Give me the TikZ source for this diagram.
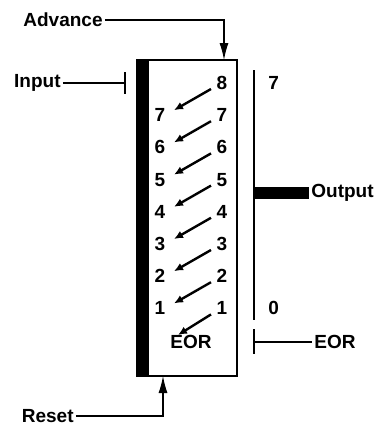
\documentclass[tikz,border=0pt]{standalone}
\usepackage{fontspec}
\setmainfont{Liberation Sans}
\usetikzlibrary{arrows.meta,positioning}

\begin{document}
\begin{tikzpicture}[x=0.5pt, y=-0.5pt,
  lbl/.style={font=\bfseries\fontsize{9.5}{11}\selectfont, inner sep=1pt},
  digit/.style={lbl, anchor=center},
  wire/.style={line width=0.6pt},
  feed/.style={wire, -{Latex[length=8.5pt, width=4.5pt]}},
  shiftarr/.style={line width=1.2pt, -{Latex[length=4.5pt, width=4pt]}}
]
  \useasboundingbox (0,0) rectangle (385,425);

  %% Register box
  \node[draw, line width=1pt, minimum width=50pt, minimum height=158pt, inner sep=0pt] (reg) at (187,218) {};
  \fill (reg.north west) rectangle ([xshift=6.5pt]reg.south west);

  %% Cell numbers
  \node[digit] (r8) at (222,83) {8};
  \foreach \n [evaluate=\n as \y using {83+(8-\n)*32.2}] in {7,...,1} {
    \node[digit] (l\n) at (160,\y) {\n};
    \node[digit] (r\n) at (222,\y) {\n};
  }
  \node[digit] (eor) at (191,342) {EOR};

  %% Shift arrows
  \foreach \a/\b in {8/7,7/6,6/5,5/4,4/3,3/2,2/1} {
    \draw[shiftarr] ([shift={(-11,6)}]r\a.center) -- ([shift={(14,-5)}]l\b.center);
  }
  \draw[shiftarr] ([shift={(-11,6)}]r1.center) -- ([shift={(-13,-7)}]eor.center);

  %% Advance and reset
  \node[lbl, anchor=east] (adv) at (105,20) {Advance};
  \coordinate (advin) at (224,60);
  \draw[feed] (adv.east) -| (advin);

  \node[lbl, anchor=east] (rst) at (76,416) {Reset};
  \coordinate (rstin) at (163,376);
  \draw[feed] (rst.east) -| (rstin);

  %% Input
  \node[lbl, anchor=east] (inp) at (63,83) {Input};
  \coordinate (inpbar) at (125,83);
  \draw[wire] (inp.east) -- (inpbar);
  \draw[wire] ([yshift=5.5pt]inpbar) -- ([yshift=-5.5pt]inpbar);

  %% Output side
  \coordinate (otop) at (254,70);
  \coordinate (obot) at (254,320);
  \draw[line width=1pt] (otop) -- (obot);
  \node[lbl, anchor=west] (hi) at (266,83) {7};
  \node[lbl, anchor=west] (lo) at (266,308) {0};
  \node[lbl, anchor=west] (out) at (309,193) {Output};
  \draw[line width=6pt] (254,193) -- (out.west);

  \node[lbl, anchor=west] (eorout) at (312,342) {EOR};
  \coordinate (eorbar) at (254,342);
  \draw[line width=1pt] ([yshift=6.5pt]eorbar) -- ([yshift=-6pt]eorbar);
  \draw[wire] (eorbar) -- (eorout.west);
\end{tikzpicture}
\end{document}
